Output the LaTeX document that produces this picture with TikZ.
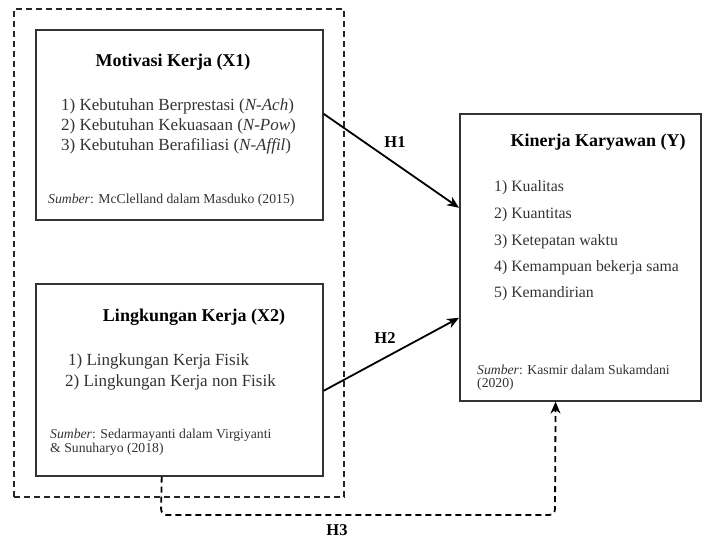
\documentclass[tikz,border=0pt]{standalone}
\usepackage{fontspec}
\setmainfont{Liberation Serif}
\usetikzlibrary{arrows.meta,calc}
\begin{document}
\begin{tikzpicture}[x=1pt,y=-1pt,
  box/.style={draw=black!80, line width=1.6pt, fill=none, inner sep=0pt, anchor=north west},
  grpbox/.style={draw=black!85, line width=1.8pt, dash pattern=on 6pt off 4pt, inner sep=0pt, anchor=north west},
  ttl/.style={font=\fontsize{18}{21}\selectfont\bfseries, text=black, inner sep=0pt},
  itm/.style={font=\fontsize{17}{20}\selectfont, text=black!80, inner sep=0pt, anchor=west},
  yitm/.style={font=\fontsize{15.8}{19}\selectfont, text=black!80, inner sep=0pt, anchor=west},
  src/.style={font=\fontsize{13.7}{15}\selectfont, text=black!80, inner sep=0pt, anchor=west, align=left},
  hlab/.style={font=\fontsize{16.5}{19}\selectfont\bfseries, text=black, inner sep=0pt},
  arr/.style={line width=1.8pt, -{Stealth[length=12pt,width=10pt]}},
  darr/.style={line width=1.8pt, dash pattern=on 6pt off 4pt, rounded corners=6pt, -{Stealth[length=12pt,width=10pt]}}
]
\useasboundingbox (0,0) rectangle (704,540);
% group
\node[grpbox, minimum width=330pt, minimum height=488pt] (grp) at (13,8) {};
% boxes
\node[box, minimum width=287pt, minimum height=190pt] (x1) at (35,29) {};
\node[box, minimum width=287pt, minimum height=192pt] (x2) at (35,283) {};
\node[box, minimum width=241pt, minimum height=287pt] (y) at (459,113) {};
% X1 text
\node[ttl] (x1t) at (173,62) {Motivasi Kerja (X1)};
\node[itm] (x1a) at (61,106) {1) Kebutuhan Berprestasi (\textit{N-Ach})};
\node[itm] (x1b) at (61,126) {2) Kebutuhan Kekuasaan (\textit{N-Pow})};
\node[itm] (x1c) at (61,146) {3) Kebutuhan Berafiliasi (\textit{N-Affil})};
\node[src] (x1s) at (48,200) {\textit{Sumber}: McClelland dalam Masduko (2015)};
% X2 text
\node[ttl] (x2t) at (194,317) {Lingkungan Kerja (X2)};
\node[itm] (x2a) at (68,361) {1) Lingkungan Kerja Fisik};
\node[itm] (x2b) at (65,382) {2) Lingkungan Kerja non Fisik};
\node[src, anchor=north west] (x2s) at (50,429) {\textit{Sumber}: Sedarmayanti dalam Virgiyanti\\[-1pt]\& Sunuharyo (2018)};
% Y text
\node[ttl] (yt) at (598,142) {Kinerja Karyawan (Y)};
\node[yitm] (ya) at (494,188) {1) Kualitas};
\node[yitm] (yb) at (494,215) {2) Kuantitas};
\node[yitm] (yc) at (494,242) {3) Ketepatan waktu};
\node[yitm] (yd) at (494,268) {4) Kemampuan bekerja sama};
\node[yitm] (ye) at (494,294) {5) Kemandirian};
\node[src, anchor=north west] (ys) at (477,365) {\textit{Sumber}: Kasmir dalam Sukamdani\\[-2pt](2020)};
% arrows
\draw[arr] ([yshift=11pt]x1.east) -- ([yshift=49.5pt]y.west);
\draw[arr] ([yshift=-11pt]x2.east) -- ([yshift=-60.5pt]y.west);
\coordinate (c1) at (161,515);
\coordinate (c2) at (555,515);
\draw[darr] ($(x2.south west)!0.439!(x2.south east)$) -- (c1) -- (c2) -- ($(y.south west)!0.398!(y.south east)$);
% labels
\node[hlab] (h1) at (395,142) {H1};
\node[hlab] (h2) at (385,338) {H2};
\node[hlab] (h3) at (337,530) {H3};
\end{tikzpicture}
\end{document}
